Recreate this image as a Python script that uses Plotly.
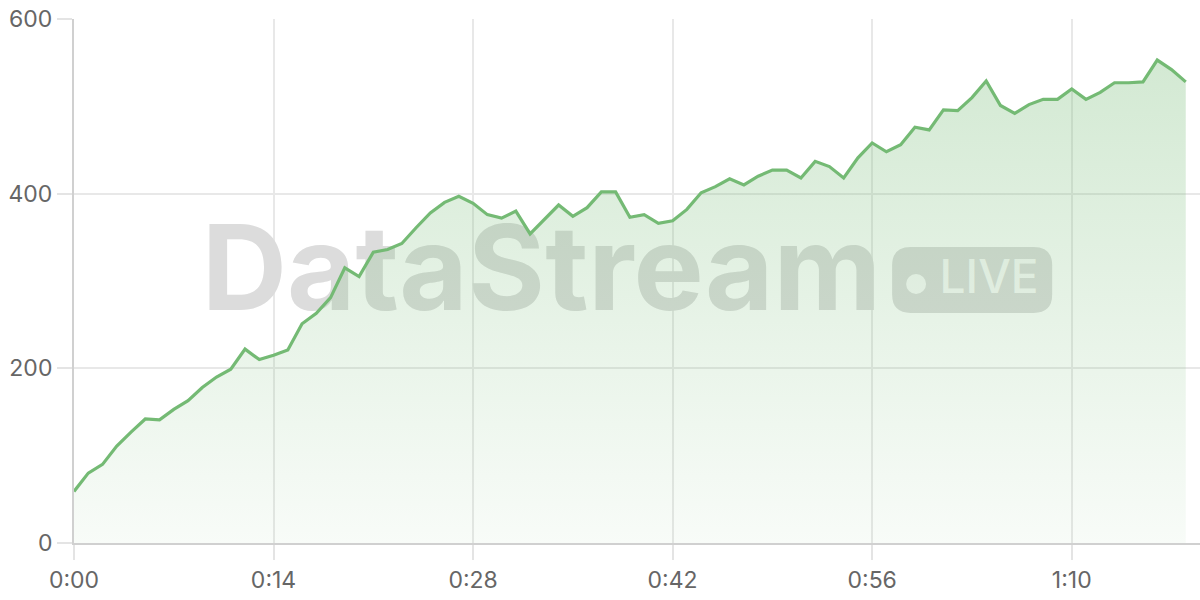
import plotly.graph_objects as go

# valores por segundo
seconds = list(range(79))
values = [59, 80, 90, 111, 127, 142, 141, 153, 163, 178,
          190, 199, 222, 210, 215, 221, 251, 263, 281, 315,
          305, 333, 336, 343, 361, 378, 390, 397, 389, 376,
          372, 380, 354, 370, 387, 374, 384, 402, 402, 373,
          376, 366, 369, 382, 401, 408, 417, 410, 420, 427,
          427, 418, 437, 431, 418, 441, 458, 448, 456, 476,
          473, 496, 495, 510, 529, 501, 492, 502, 508, 508,
          520, 508, 516, 527, 527, 528, 553, 542, 528]

tick_vals = [0, 14, 28, 42, 56, 70]
tick_text = ["0:00", "0:14", "0:28", "0:42", "0:56", "1:10"]

line_color = "rgb(116,186,116)"
font_name = "Inter"

fig = go.Figure()

# marca de agua (debajo de la serie)
fig.add_trace(go.Scatter(
    x=[32.8], y=[301], mode="text", text=["DataStream"],
    textfont=dict(family=font_name, size=118, color="#dcdcdc", weight="bold"),
    hoverinfo="skip", showlegend=False))
fig.add_trace(go.Scatter(
    x=[64.2], y=[300], mode="text", text=["LIVE"],
    textfont=dict(family=font_name, size=46, color="rgba(255,255,255,0.85)", weight=500),
    hoverinfo="skip", showlegend=False))

# serie principal
fig.add_trace(go.Scatter(
    x=seconds, y=values, mode="lines",
    line=dict(color=line_color, width=3.2),
    fill="tozeroy",
    fillgradient=dict(type="vertical", start=0, stop=560,
                      colorscale=[[0, "rgba(116,186,116,0.05)"],
                                  [1, "rgba(116,186,116,0.32)"]]),
    hoverinfo="skip", showlegend=False))

# badge LIVE
bx0, bx1, by0, by1 = 57.40, 68.63, 263.4, 338.9
rx, ry = 1.3, 21
badge = (f"M {bx0+rx},{by0} L {bx1-rx},{by0} Q {bx1},{by0} {bx1},{by0+ry} "
         f"L {bx1},{by1-ry} Q {bx1},{by1} {bx1-rx},{by1} L {bx0+rx},{by1} "
         f"Q {bx0},{by1} {bx0},{by1-ry} L {bx0},{by0+ry} Q {bx0},{by0} {bx0+rx},{by0} Z")
fig.add_shape(type="path", path=badge, xref="x", yref="y", layer="below",
              fillcolor="#dcdcdc", line=dict(width=0))
fig.add_shape(type="circle", xref="x", yref="y", layer="below",
              x0=58.38, x1=59.78, y0=285.1, y1=308.0,
              fillcolor="rgba(255,255,255,0.85)", line=dict(width=0))

fig.update_layout(
    width=1200, height=600,
    margin=dict(l=74, r=0, t=19, b=57),
    paper_bgcolor="white", plot_bgcolor="white",
    font=dict(family=font_name, size=23, color="#666666"),
    showlegend=False,
)
fig.update_xaxes(
    range=[0, 79], tickvals=tick_vals, ticktext=tick_text,
    showgrid=True, gridcolor="#e8e8e8", gridwidth=1.5,
    showline=True, linecolor="#d0d0d0", linewidth=2,
    ticks="outside", ticklen=15, tickcolor="#e4e4e4", tickwidth=1.5,
    zeroline=False, fixedrange=True, automargin=False)
fig.update_yaxes(
    range=[0, 600], tickvals=[0, 200, 400, 600],
    showgrid=True, gridcolor="#e8e8e8", gridwidth=1.5,
    showline=True, linecolor="#d0d0d0", linewidth=2,
    ticks="outside", ticklen=15, tickcolor="#e4e4e4", tickwidth=1.5,
    zeroline=False, fixedrange=True, automargin=False)

# quitar el margen del body para que la figura empiece en 0,0
fig.write_html("out.html", config={"displayModeBar": False},
               post_script="document.body.style.margin='0';")
